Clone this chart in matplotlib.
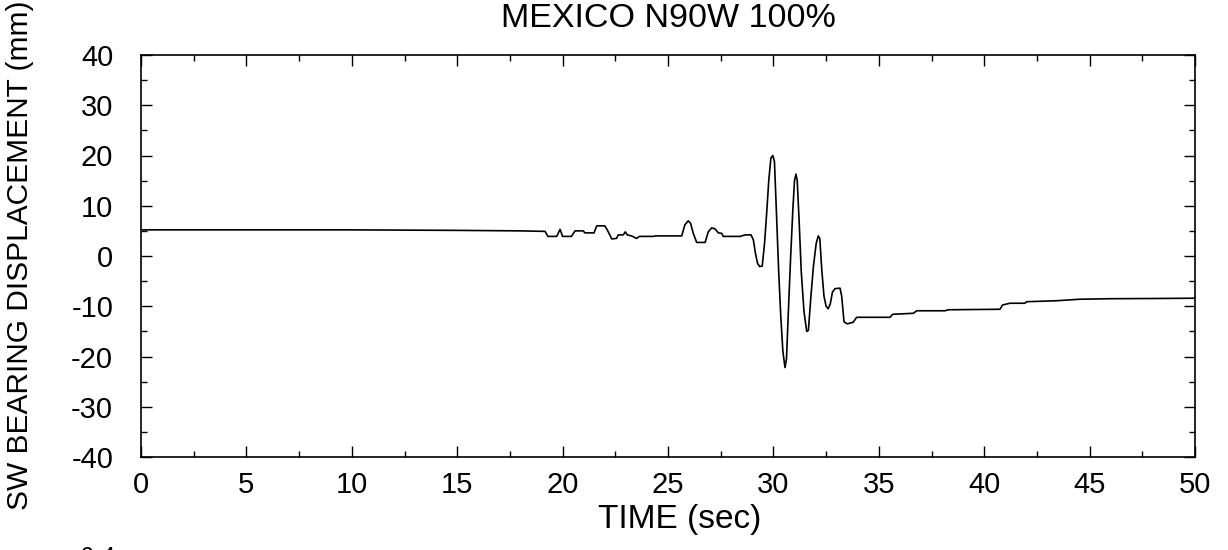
import matplotlib
matplotlib.use("Agg")
import matplotlib.pyplot as plt
from matplotlib.ticker import MultipleLocator

plt.rcParams['font.family'] = ['Liberation Sans', 'DejaVu Sans']
plt.rcParams['axes.unicode_minus'] = False

## DATA
time_sec = [0.0, 5.0, 10.0, 15.0, 18.0, 19.17, 19.3, 19.72, 19.88, 20.0, 20.42, 20.59,
            20.98, 21.06, 21.49, 21.62, 22.0, 22.12, 22.33, 22.56, 22.64, 22.88, 22.97,
            23.07, 23.27, 23.51, 23.64, 24.3, 24.4, 25.65, 25.8, 25.96, 26.07, 26.2,
            26.36, 26.76, 26.91, 27.07, 27.23, 27.39, 27.55, 27.62, 28.42, 28.65, 28.94,
            29.05, 29.15, 29.25, 29.35, 29.47, 29.58, 29.68, 29.78, 29.88, 29.97, 30.05,
            30.15, 30.25, 30.35, 30.45, 30.55, 30.62, 30.72, 30.82, 30.92, 31.0, 31.07,
            31.13, 31.22, 31.32, 31.45, 31.58, 31.66, 31.78, 31.9, 32.03, 32.13, 32.2,
            32.3, 32.4, 32.5, 32.6, 32.7, 32.8, 32.92, 33.16, 33.24, 33.35, 33.5, 33.78,
            33.95, 35.53, 35.66, 36.64, 36.8, 38.14, 38.3, 40.75, 40.87, 41.22, 41.93,
            42.01, 43.44, 44.54, 45.97, 48.34, 50.0]
disp_mm = [5.2, 5.2, 5.2, 5.1, 5.0, 4.9, 3.9, 3.9, 5.3, 3.9, 3.9, 5.0,
           5.0, 4.6, 4.6, 6.0, 6.0, 5.2, 3.4, 3.5, 4.2, 4.2, 4.8,
           4.2, 4.0, 3.5, 3.9, 3.9, 4.0, 4.0, 6.2, 7.0, 6.5, 4.5,
           2.7, 2.7, 4.8, 5.6, 5.4, 4.6, 4.5, 3.9, 3.9, 4.2, 4.2,
           3.2, 0.5, -1.5, -2.1, -2.0, 2.5, 8.5, 15.0, 19.5, 20.0, 18.8,
           8.0, -3.0, -12.0, -19.0, -22.2, -20.5, -10.0, 0.0, 9.0, 15.0, 16.3,
           15.0, 7.0, -3.0, -11.0, -15.0, -14.8, -8.0, -2.0, 2.5, 4.0, 3.5,
           -3.0, -8.0, -10.0, -10.5, -9.5, -7.2, -6.5, -6.4, -8.0, -13.1, -13.5, -13.2,
           -12.2, -12.2, -11.6, -11.4, -10.9, -10.9, -10.7, -10.6, -9.75, -9.4, -9.4,
           -9.1, -8.9, -8.6, -8.5, -8.45, -8.4]

x_ticks = [0, 5, 10, 15, 20, 25, 30, 35, 40, 45, 50]
y_ticks = [-40, -30, -20, -10, 0, 10, 20, 30, 40]

## PLOT
fig = plt.figure(figsize=(12.28, 5.5), dpi=100)
ax = fig.add_axes([141 / 1228, 1 - 457 / 550, (1195 - 141) / 1228, (457 - 55) / 550])

ax.plot(time_sec, disp_mm, color='black', linewidth=1.2)

ax.set_xlim(0, 50)
ax.set_ylim(-40, 40)
ax.set_xticks(x_ticks)
ax.set_yticks(y_ticks)
ax.xaxis.set_minor_locator(MultipleLocator(2.5))
ax.yaxis.set_minor_locator(MultipleLocator(5))

ax.tick_params(which='both', direction='in', top=True, right=True, labelsize=21, width=1)
ax.tick_params(axis='x', which='major', length=8, pad=10)
ax.tick_params(axis='y', which='major', length=8, pad=20)
ax.tick_params(which='minor', length=4)
for s in ax.spines.values():
    s.set_linewidth(1.2)

# title placed by its baseline, centred over the axes
fig.text(668 / 1228, 1 - 27 / 550, "MEXICO N90W 100%", fontsize=24.5,
         ha='center', va='baseline')
ax.set_xlabel("TIME (sec)", fontsize=24)
ax.xaxis.set_label_coords((680 - 141) / 1054, -(504 - 457) / 402)
ax.set_ylabel("SW BEARING DISPLACEMENT (mm)", fontsize=21.5)
ax.yaxis.set_label_coords(-(141 - 34) / 1054, (457 - 255) / 402)

# page number, mostly cut off at the bottom edge
fig.text(80 / 1228, 1 - 546 / 550, "6-4", fontsize=18, va='top', ha='left')

fig.savefig("out.png", dpi=100)
